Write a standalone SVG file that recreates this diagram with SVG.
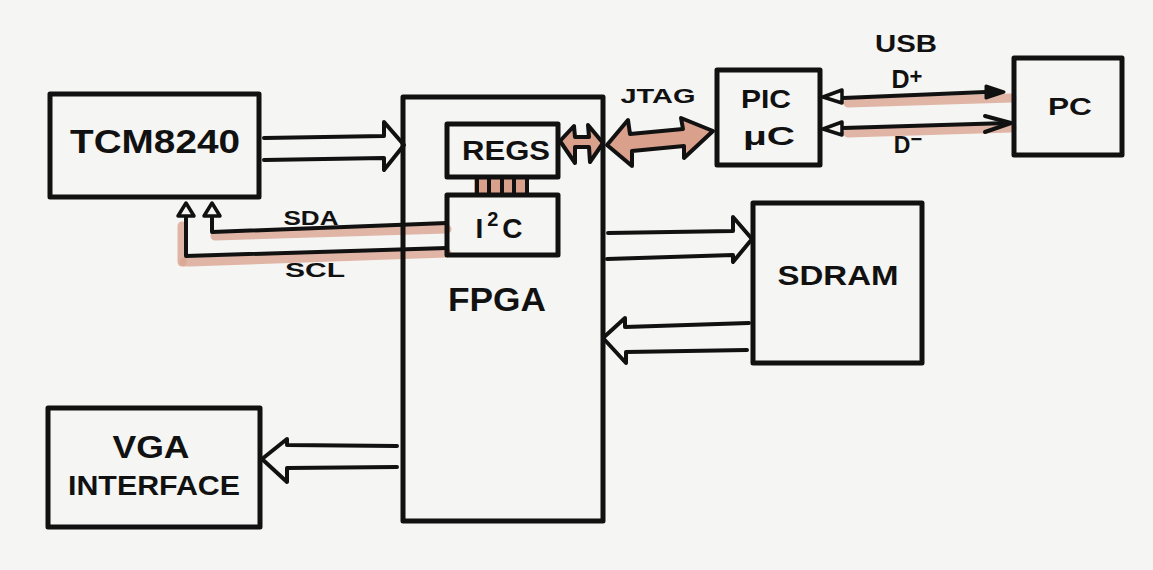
<svg xmlns="http://www.w3.org/2000/svg" width="1153" height="570" viewBox="0 0 1153 570">
<style>
.box{fill:none;stroke:#111;stroke-width:5;stroke-linejoin:round;stroke-linecap:round}
.ln{fill:none;stroke:#111;stroke-width:4;stroke-linejoin:round;stroke-linecap:round}
.pk{fill:none;stroke:#dba592;stroke-width:9;stroke-linecap:round;stroke-linejoin:round;opacity:0.8}
.dbl{fill:#d9a08c;stroke:#111;stroke-width:4;stroke-linejoin:round}
.tri{fill:none;stroke:#111;stroke-width:3.5;stroke-linejoin:round}
text{font-family:"Liberation Sans",Arial,sans-serif;font-weight:bold;fill:#111;text-anchor:middle}
</style>
<rect width="1153" height="570" fill="#f5f5f3"/>

<g id="connectors">
  <!-- pink shadows -->
  <path class="pk" d="M447,229 L215,236"/>
  <path class="pk" d="M447,253 L190,262 L184,262"/>
  <path class="pk" d="M182,226 L182,262"/>
  <path class="pk" d="M848,103 L1012,98"/>
  <path class="pk" d="M848,133 L1012,128"/>
  <rect x="474" y="178" width="55" height="17" fill="#d9a08c"/>
  <!-- TCM8240 -> FPGA -->
  <path class="ln" d="M264,138 L384,136 L384,122 L404,145 L384,170 L384,158 L264,160"/>
  <!-- FPGA -> SDRAM -->
  <path class="ln" d="M608,233 L733,231 L733,217 L752,239 L733,262 L733,255 L607,259"/>
  <!-- SDRAM -> FPGA -->
  <path class="ln" d="M749,323 L625,327 L625,318 L603,338 L626,363 L626,352 L747,350"/>
  <!-- FPGA -> VGA -->
  <path class="ln" d="M397,446 L287,445 L287,439 L262,459 L287,482 L287,468 L397,467"/>
  <!-- SDA -->
  <path class="ln" d="M447,223 L212,232 L212,218"/>
  <polygon class="tri" points="204,216 212,203 220,216"/>
  <!-- SCL -->
  <path class="ln" d="M447,248 L186,256 L186,218"/>
  <polygon class="tri" points="178,216 186,203 194,216"/>
  <!-- REGS <-> FPGA edge -->
  <path class="dbl" d="M560,141 L574,126 L575,137 L589,137 L588,125 L603,143 L590,162 L589,147 L575,147 L575,163 Z"/>
  <!-- JTAG -->
  <path class="dbl" d="M607,145 L628,120 L630,134 L683,129 L681,118 L713,131 L684,158 L684,146 L632,151 L632,166 Z"/>
  <!-- REGS-I2C bus -->
  <path class="ln" d="M477,177 L477,195 M489,177 L489,195 M502,177 L502,195 M514,177 L514,195 M527,177 L527,195"/>
  <!-- D+ -->
  <path class="ln" d="M843,98 L986,92"/>
  <polygon class="tri" points="823,97 842,90 842,103"/>
  <polygon points="986,86 1004,92 986,98" fill="#111" stroke="#111" stroke-width="3" stroke-linejoin="round"/>
  <!-- D- -->
  <path class="ln" d="M843,128 L1008,123"/>
  <polygon class="tri" points="823,129 842,122 842,135"/>
  <path class="ln" d="M985,116 L1011,123 L985,132"/>
</g>

<g id="tcm8240">
  <rect class="box" x="50" y="94" width="209" height="103"/>
  <text x="155" y="153" font-size="33" textLength="170" lengthAdjust="spacingAndGlyphs">TCM8240</text>
</g>

<g id="fpga">
  <rect class="box" x="403" y="97" width="200" height="424"/>
  <text x="497" y="311" font-size="34" textLength="98" lengthAdjust="spacingAndGlyphs">FPGA</text>
</g>

<g id="regs">
  <rect class="box" x="447" y="124" width="111" height="53"/>
  <text x="506" y="160" font-size="27" textLength="88" lengthAdjust="spacingAndGlyphs">REGS</text>
</g>

<g id="i2c">
  <rect class="box" x="447" y="195" width="111" height="60"/>
  <text x="501" y="238" font-size="28" letter-spacing="4">I<tspan font-size="20" dy="-12">2</tspan><tspan dy="12">C</tspan></text>
</g>

<g id="pic">
  <rect class="box" x="717" y="70" width="103" height="95"/>
  <text x="766" y="108" font-size="25" textLength="50" lengthAdjust="spacingAndGlyphs">PIC</text>
  <text x="769" y="145" font-size="25" textLength="52" lengthAdjust="spacingAndGlyphs">μC</text>
</g>

<g id="pc">
  <rect class="box" x="1014" y="58" width="108" height="97"/>
  <text x="1070" y="115" font-size="24" textLength="44" lengthAdjust="spacingAndGlyphs">PC</text>
</g>

<g id="sdram">
  <rect class="box" x="753" y="203" width="169" height="160"/>
  <text x="838" y="285" font-size="28" textLength="121" lengthAdjust="spacingAndGlyphs">SDRAM</text>
</g>

<g id="vga">
  <rect class="box" x="48" y="408" width="212" height="119"/>
  <text x="151" y="458" font-size="31" textLength="77" lengthAdjust="spacingAndGlyphs">VGA</text>
  <text x="154" y="495" font-size="28" textLength="172" lengthAdjust="spacingAndGlyphs">INTERFACE</text>
</g>

<g id="labels">
  <text x="658" y="103" font-size="21" textLength="75" lengthAdjust="spacingAndGlyphs">JTAG</text>
  <text x="906" y="52" font-size="23" textLength="62" lengthAdjust="spacingAndGlyphs">USB</text>
  <text x="907" y="88" font-size="25">D<tspan font-size="22" dy="-4">+</tspan></text>
  <text x="908" y="153" font-size="23">D<tspan font-size="20" dy="-7">−</tspan></text>
  <text x="311" y="225" font-size="20" textLength="55" lengthAdjust="spacingAndGlyphs">SDA</text>
  <text x="315" y="277" font-size="21" textLength="60" lengthAdjust="spacingAndGlyphs">SCL</text>
</g>
</svg>
